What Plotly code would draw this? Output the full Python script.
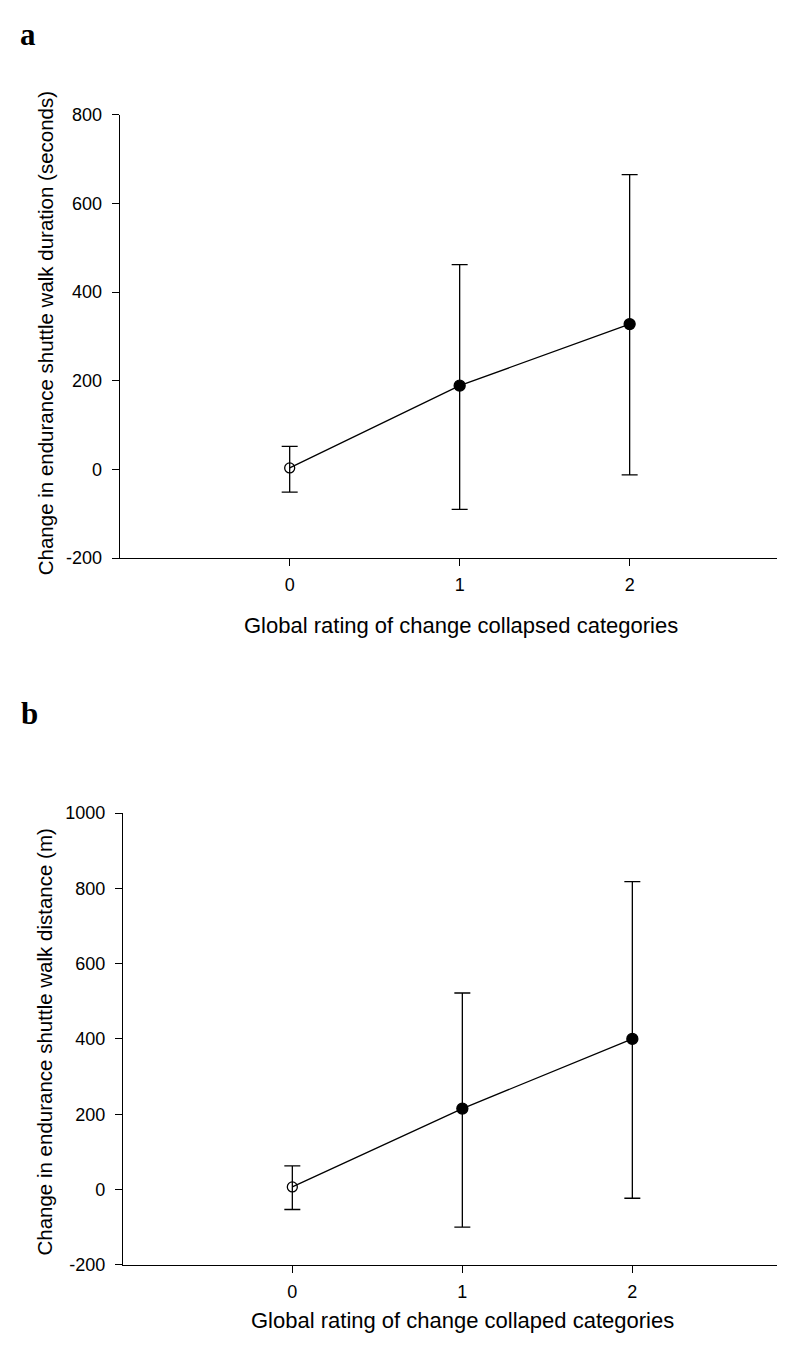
import plotly.graph_objects as go

# ---- data ----
categories = [0, 1, 2]

dur_mean = [3.6, 189, 328]
dur_upper = [52, 462, 665]
dur_lower = [-51, -90, -12]

dist_mean = [7, 215, 400]
dist_upper = [63, 522, 818]
dist_lower = [-53, -100, -23]

y_ticks_a = [-200, 0, 200, 400, 600, 800]
y_ticks_b = [-200, 0, 200, 400, 600, 800, 1000]
x_ticks = [0, 1, 2]

title_a = "Change in endurance shuttle walk duration (seconds)"
title_b = "Change in endurance shuttle walk distance (m)"
xtitle_a = "Global rating of change collapsed categories"
xtitle_b = "Global rating of change collaped categories"

W, H = 785, 1345
FONT = "Arial, Liberation Sans, sans-serif"
TICK_FS = 18
XTITLE_FS = 22
YTITLE_FS = 20.5


def fy(px):
    return 1 - px / H


fig = go.Figure()


def add_panel(mean, upper, lower, xa, ya):
    plus = [u - m for u, m in zip(upper, mean)]
    minus = [m - l for m, l in zip(mean, lower)]
    fig.add_trace(go.Scatter(x=categories, y=mean, mode="lines",
                             line=dict(color="black", width=1.3),
                             xaxis=xa, yaxis=ya, showlegend=False, hoverinfo="skip"))
    symbols = ["circle-open", "circle", "circle"]
    fig.add_trace(go.Scatter(x=categories, y=mean, mode="markers",
                             marker=dict(symbol=symbols, size=[10, 11, 11], color="black",
                                         opacity=1,
                                         line=dict(color="black", width=1.3)),
                             error_y=dict(type="data", symmetric=False, array=plus,
                                          arrayminus=minus, color="black",
                                          thickness=1.3, width=8),
                             xaxis=xa, yaxis=ya, showlegend=False))


add_panel(dur_mean, dur_upper, dur_lower, "x", "y")
add_panel(dist_mean, dist_upper, dist_lower, "x2", "y2")

axis_common = dict(showline=True, linecolor="black", linewidth=1.3, showgrid=False,
                   zeroline=False, ticks="outside", ticklen=7, tickcolor="black",
                   tickwidth=1.3, tickfont=dict(family=FONT, size=TICK_FS, color="black"))

fig.update_layout(
    width=W, height=H, margin=dict(l=0, r=0, t=0, b=0),
    plot_bgcolor="white", paper_bgcolor="white",
    xaxis=dict(domain=[111.7 / W, 1], range=[-1, 2.961], tickvals=x_ticks,
               ticktext=[str(v) for v in x_ticks], ticklabelstandoff=3,
               anchor="y", **axis_common),
    yaxis=dict(domain=[fy(548.3), fy(98.3)], range=[-200, 800], tickvals=y_ticks_a,
               ticktext=[str(v) for v in y_ticks_a], ticklabelstandoff=6,
               anchor="x", **axis_common),
    xaxis2=dict(domain=[115 / W, 1], range=[-0.996, 2.945], tickvals=x_ticks,
                ticktext=[str(v) for v in x_ticks], ticklabelstandoff=3,
                anchor="y2", **axis_common),
    yaxis2=dict(domain=[fy(1265.7), fy(807)], range=[-200, 1000], tickvals=y_ticks_b,
                ticktext=[str(v) for v in y_ticks_b], ticklabelstandoff=6,
                anchor="x2", **axis_common),
    showlegend=False,
)

xt_font = dict(family=FONT, size=XTITLE_FS, color="black")
yt_font = dict(family=FONT, size=YTITLE_FS, color="black")
panel_font = dict(family="Times New Roman, Liberation Serif, serif", size=31, color="black")

fig.add_annotation(text="<b>a</b>", x=10 / W, y=fy(17), xref="paper", yref="paper",
                   xanchor="left", yanchor="middle", showarrow=False, font=panel_font)
fig.add_annotation(text="<b>b</b>", x=11 / W, y=fy(706), xref="paper", yref="paper",
                   xanchor="left", yanchor="middle", showarrow=False, font=panel_font)

fig.add_annotation(text=title_a, textangle=-90, x=37 / W, y=fy(320), xref="paper", yref="paper",
                   xanchor="center", yanchor="middle", showarrow=False, font=yt_font)
fig.add_annotation(text=title_b, textangle=-90, x=37 / W, y=fy(1040), xref="paper", yref="paper",
                   xanchor="center", yanchor="middle", showarrow=False, font=yt_font)

fig.add_annotation(text=xtitle_a, x=453 / W, y=fy(617), xref="paper", yref="paper",
                   xanchor="center", yanchor="middle", showarrow=False, font=xt_font)
fig.add_annotation(text=xtitle_b, x=454.5 / W, y=fy(1322), xref="paper", yref="paper",
                   xanchor="center", yanchor="middle", showarrow=False, font=xt_font)

fig.write_html("out.html")
